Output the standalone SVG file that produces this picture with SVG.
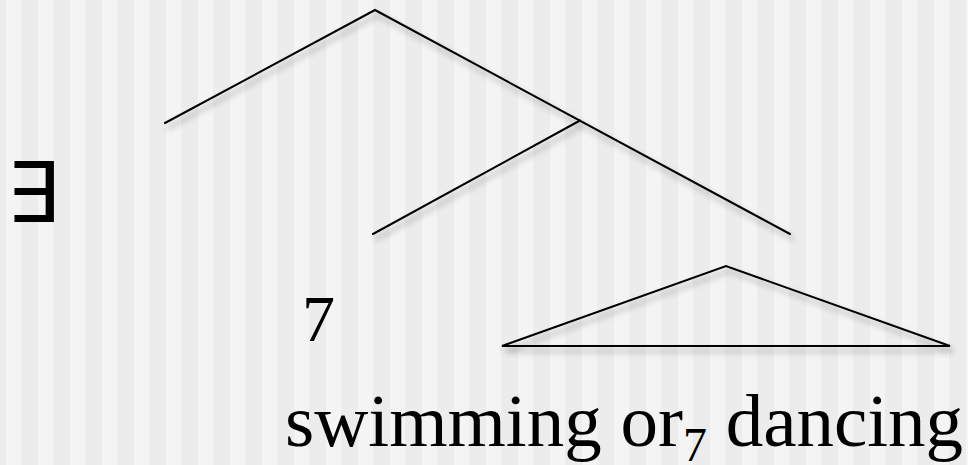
<svg xmlns="http://www.w3.org/2000/svg" width="968" height="465" viewBox="0 0 968 465">
<defs>
<pattern id="stripes" x="0" y="0" width="32" height="465" patternUnits="userSpaceOnUse">
<rect x="0" y="0" width="32" height="465" fill="#ececec"/>
<rect x="6" y="0" width="15" height="465" fill="#f4f4f4"/>
</pattern>
<filter id="shadow" x="-10%" y="-20%" width="130%" height="160%">
<feDropShadow dx="3" dy="5" stdDeviation="3" flood-color="#000" flood-opacity="0.35"/>
</filter>
</defs>
<style>
.edge{fill:none;stroke:#000;stroke-width:2;stroke-linecap:round;stroke-linejoin:miter}
.serif{font-family:"Liberation Serif","Times New Roman",serif;fill:#000}
.sans{font-family:"DejaVu Sans","Liberation Sans",sans-serif;fill:#000}
</style>
<rect x="0" y="0" width="968" height="465" fill="url(#stripes)"/>
<g id="connectors" filter="url(#shadow)">
<polyline class="edge" points="165,123 375,10 790,234"/>
<line class="edge" x1="580" y1="120.5" x2="373" y2="234"/>
<polygon class="edge" points="502,346 726,266 950,346"/>
</g>
<g id="exists"><text class="sans" x="6" y="222" font-size="84">∃</text></g>
<g id="label7"><text class="serif" x="302" y="341" font-size="66">7</text></g>
<g id="leaf"><text class="serif" x="285" y="446" font-size="75">swimming or<tspan font-size="48" dy="15">7</tspan><tspan dy="-15"> dancing</tspan></text></g>
</svg>
